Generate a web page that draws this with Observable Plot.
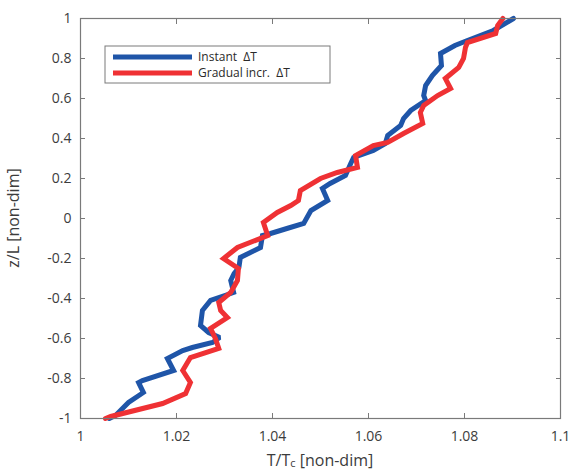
<!DOCTYPE html>
<html>
<head>
<meta charset="utf-8">
<script src="https://cdn.jsdelivr.net/npm/d3@7"></script>
<script src="https://cdn.jsdelivr.net/npm/@observablehq/plot@0.6"></script>
<style>
  html, body { margin: 0; padding: 0; background: #fff; }
  #chart svg { font-family: "Open Sans", sans-serif; }
</style>
</head>
<body>
<div id="chart"></div>
<script>
// Instant ΔT profile: temperature T/Tc versus height z/L
const instantT = [1.0902, 1.0860, 1.0806, 1.0780, 1.0750, 1.0752, 1.0733, 1.0719, 1.0715, 1.0719, 1.0688, 1.0673, 1.0667, 1.0640, 1.0635, 1.0610, 1.0569, 1.0563, 1.0552, 1.0520, 1.0504, 1.0515, 1.0480, 1.0465, 1.0430, 1.0396, 1.0379, 1.0375, 1.0333, 1.0330, 1.0320, 1.0313, 1.0319, 1.0271, 1.0254, 1.0250, 1.0267, 1.0290, 1.0275, 1.0233, 1.0213, 1.0181, 1.0194, 1.0129, 1.0121, 1.0131, 1.0100, 1.0073, 1.0060];
const instantZ = [1.000, 0.940, 0.890, 0.865, 0.825, 0.765, 0.715, 0.665, 0.615, 0.590, 0.540, 0.500, 0.465, 0.415, 0.375, 0.340, 0.305, 0.275, 0.215, 0.175, 0.150, 0.090, 0.040, -0.025, -0.050, -0.075, -0.085, -0.145, -0.195, -0.245, -0.275, -0.310, -0.370, -0.410, -0.460, -0.535, -0.570, -0.595, -0.620, -0.645, -0.660, -0.700, -0.760, -0.810, -0.820, -0.870, -0.920, -0.985, -1.000];

// Gradual increase ΔT profile
const gradualT = [1.0880, 1.0869, 1.0865, 1.0806, 1.0802, 1.0798, 1.0788, 1.0760, 1.0771, 1.0744, 1.0715, 1.0708, 1.0713, 1.0673, 1.0640, 1.0610, 1.0573, 1.0577, 1.0535, 1.0500, 1.0458, 1.0454, 1.0438, 1.0410, 1.0381, 1.0390, 1.0327, 1.0298, 1.0329, 1.0327, 1.0313, 1.0288, 1.0292, 1.0306, 1.0271, 1.0281, 1.0288, 1.0229, 1.0213, 1.0229, 1.0219, 1.0171, 1.0063, 1.0052];
const gradualZ = [1.000, 0.965, 0.925, 0.880, 0.855, 0.800, 0.755, 0.700, 0.650, 0.615, 0.565, 0.530, 0.475, 0.425, 0.380, 0.365, 0.315, 0.255, 0.230, 0.200, 0.140, 0.090, 0.065, 0.030, -0.020, -0.085, -0.145, -0.200, -0.250, -0.310, -0.370, -0.420, -0.460, -0.495, -0.550, -0.600, -0.650, -0.695, -0.760, -0.820, -0.875, -0.925, -0.990, -1.000];

const seriesNames = ["Instant  \u0394T", "Gradual incr.  \u0394T"];
const seriesColors = ["#1f55a8", "#ef3134"];
const xTicks = [1, 1.02, 1.04, 1.06, 1.08, 1.1];
const xTickLabels = ["1", "1.02", "1.04", "1.06", "1.08", "1.1"];
const yTicks = [-1, -0.8, -0.6, -0.4, -0.2, 0, 0.2, 0.4, 0.6, 0.8, 1];
const yTickLabels = ["-1", "-0.8", "-0.6", "-0.4", "-0.2", "0", "0.2", "0.4", "0.6", "0.8", "1"];

const rows = [
  ...instantT.map((t, i) => ({t, z: instantZ[i], s: seriesNames[0]})),
  ...gradualT.map((t, i) => ({t, z: gradualZ[i], s: seriesNames[1]}))
];

const fmtX = d => xTickLabels[xTicks.findIndex(v => Math.abs(v - d) < 1e-9)];
const fmtY = d => yTickLabels[yTicks.findIndex(v => Math.abs(v - d) < 1e-9)];
const axisColor = "#7a7a7a";
const textColor = "#3c3c3c";

const chart = Plot.plot({
  width: 569,
  height: 472,
  marginLeft: 80,
  marginRight: 9,
  marginTop: 18,
  marginBottom: 54,
  style: {fontSize: "14px", fontFamily: "Open Sans, sans-serif", color: textColor, background: "#fff"},
  x: {domain: [1, 1.1]},
  y: {domain: [-1, 1]},
  color: {domain: seriesNames, range: seriesColors},
  marks: [
    Plot.line(rows, {x: "t", y: "z", z: "s", stroke: "s", strokeWidth: 5, strokeLinejoin: "miter", strokeMiterlimit: 2}),
    Plot.frame({stroke: axisColor, strokeWidth: 1.2}),
    Plot.axisX({anchor: "bottom", ticks: xTicks, tickFormat: fmtX, tickSize: -5, tickPadding: 18, stroke: axisColor, fill: textColor, label: null}),
    Plot.axisX({anchor: "top", ticks: xTicks, tickFormat: () => "", tickSize: -5, stroke: axisColor, label: null}),
    Plot.axisY({anchor: "left", ticks: yTicks, tickFormat: fmtY, tickSize: -5, tickPadding: 14, stroke: axisColor, fill: textColor, label: null}),
    Plot.axisY({anchor: "right", ticks: yTicks, tickFormat: () => "", tickSize: -5, stroke: axisColor, label: null})
  ]
});

document.getElementById("chart").appendChild(chart);

// Axis titles and legend (layout drawn with d3 in pixel space)
const svg = d3.select(chart);
const xl = svg.append("text")
  .attr("x", 320).attr("y", 466)
  .attr("text-anchor", "middle")
  .attr("fill", textColor)
  .style("font-size", "16px");
xl.append("tspan").text("T/T");
xl.append("tspan").attr("font-size", "11px").attr("dy", "1").text("c");
xl.append("tspan").attr("dy", "-1").text(" [non-dim]");

svg.append("text")
  .attr("transform", "translate(19,218) rotate(-90)")
  .attr("text-anchor", "middle")
  .attr("fill", textColor)
  .style("font-size", "16px")
  .text("z/L [non-dim]");

const lg = svg.append("g").attr("text-anchor", "start");
lg.append("rect")
  .attr("x", 105).attr("y", 46).attr("width", 225).attr("height", 37)
  .attr("fill", "#fff").attr("stroke", axisColor).attr("stroke-width", 1);
seriesNames.forEach((name, i) => {
  const yy = 57 + i * 16;
  lg.append("line")
    .attr("x1", 113).attr("x2", 192).attr("y1", yy).attr("y2", yy)
    .attr("stroke", seriesColors[i]).attr("stroke-width", 5);
  lg.append("text")
    .attr("x", 198).attr("y", yy).attr("dy", "0.35em")
    .attr("text-anchor", "start")
    .attr("fill", "#2a2a2a").style("font-size", "12px")
    .style("white-space", "pre")
    .text(name);
});
</script>
</body>
</html>
